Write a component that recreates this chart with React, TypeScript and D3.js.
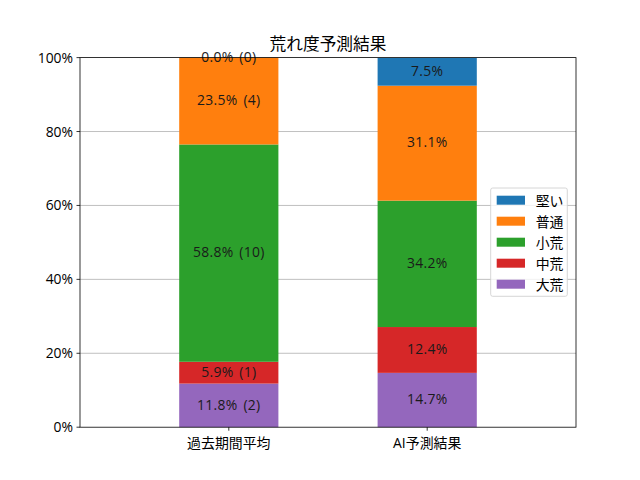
import React from "react";
import * as d3 from "d3";

const categories = ["過去期間平均", "AI予測結果"];
const seriesNames = ["大荒", "中荒", "小荒", "普通", "堅い"];
const seriesColors = ["#9467bd", "#d62728", "#2ca02c", "#ff7f0e", "#1f77b4"];
const pastValues = [11.8, 5.9, 58.8, 23.5, 0.0];
const pastCounts = [2, 1, 10, 4, 0];
const aiValues = [14.7, 12.4, 34.2, 31.1, 7.5];
const yTicks = [0, 20, 40, 60, 80, 100];
const title = "荒れ度予測結果";

const W = 640, H = 480;
const M = { left: 80, right: 576, top: 57.6, bottom: 427.2 };
const FONT = "'Open Sans', 'Noto Sans CJK JP', sans-serif";
const FS = 13.9;

export default function App() {
  const x = d3.scaleLinear().domain([-0.75, 1.75]).range([M.left, M.right]);
  const y = d3.scaleLinear().domain([0, 100]).range([M.bottom, M.top]);
  const barW = 0.5;
  const rows = [
    { vals: pastValues, labels: pastValues.map((v, i) => `${v.toFixed(1)}% (${pastCounts[i]})`) },
    { vals: aiValues, labels: aiValues.map((v) => `${v.toFixed(1)}%`) },
  ];
  const stacked = rows.map((r) => {
    let acc = 0;
    return r.vals.map((v, i) => {
      const y0 = acc;
      acc += v;
      return { y0, y1: acc, label: r.labels[i], color: seriesColors[i] };
    });
  });
  const legendItems = seriesNames.map((n, i) => ({ n, c: seriesColors[i] })).reverse();
  const lx = 490.7, ly = 188, lh = 21;
  return (
    <svg width={W} height={H} style={{ position: "absolute", left: 0, top: 0, background: "#fff" }} fontFamily={FONT}>
      <rect width={W} height={H} fill="#fff" />
      {yTicks.slice(1, -1).map((t) => (
        <line key={t} x1={M.left} x2={M.right} y1={y(t)} y2={y(t)} stroke="#b0b0b0" strokeWidth={0.8} />
      ))}
      {stacked.map((segs, ci) =>
        segs.map((s, si) => (
          <rect key={`${ci}-${si}`} x={x(ci - barW / 2)} width={x(barW) - x(0)} y={y(s.y1)} height={y(s.y0) - y(s.y1)} fill={s.color} />
        ))
      )}
      {stacked.map((segs, ci) =>
        segs.map((s, si) => (
          <text key={`t${ci}-${si}`} x={x(ci)} y={y((s.y0 + s.y1) / 2) + 4.2} textAnchor="middle" fontSize={FS} fill="#1a1a1a" wordSpacing={2} letterSpacing={0.3}>
            {s.label}
          </text>
        ))
      )}
      <rect x={M.left} y={M.top} width={M.right - M.left} height={M.bottom - M.top} fill="none" stroke="#000" strokeWidth={0.8} />
      {yTicks.map((t) => (
        <g key={t}>
          <line x1={M.left - 3.5} x2={M.left} y1={y(t)} y2={y(t)} stroke="#000" strokeWidth={0.8} />
          <text x={M.left - 7} y={y(t) + 5} textAnchor="end" fontSize={FS} fill="#000">{`${t}%`}</text>
        </g>
      ))}
      {categories.map((c, i) => (
        <g key={c}>
          <line x1={x(i)} x2={x(i)} y1={M.bottom} y2={M.bottom + 3.5} stroke="#000" strokeWidth={0.8} />
          <text x={x(i)} y={M.bottom + 20.5} textAnchor="middle" fontSize={FS} fill="#000">{c}</text>
        </g>
      ))}
      <text x={(M.left + M.right) / 2} y={49.5} textAnchor="middle" fontSize={16.7} fill="#000">{title}</text>
      <rect x={lx} y={ly} width={76.6} height={108.3} rx={2} fill="#fff" fillOpacity={0.8} stroke="#ccc" strokeWidth={0.8} />
      {legendItems.map((it, i) => (
        <g key={it.n}>
          <rect x={lx + 6} y={ly + 12.2 + i * lh - 4.5} width={28.3} height={9} fill={it.c} />
          <text x={lx + 45} y={ly + 12.2 + i * lh + 5.3} fontSize={FS} fill="#000">{it.n}</text>
        </g>
      ))}
    </svg>
  );
}
